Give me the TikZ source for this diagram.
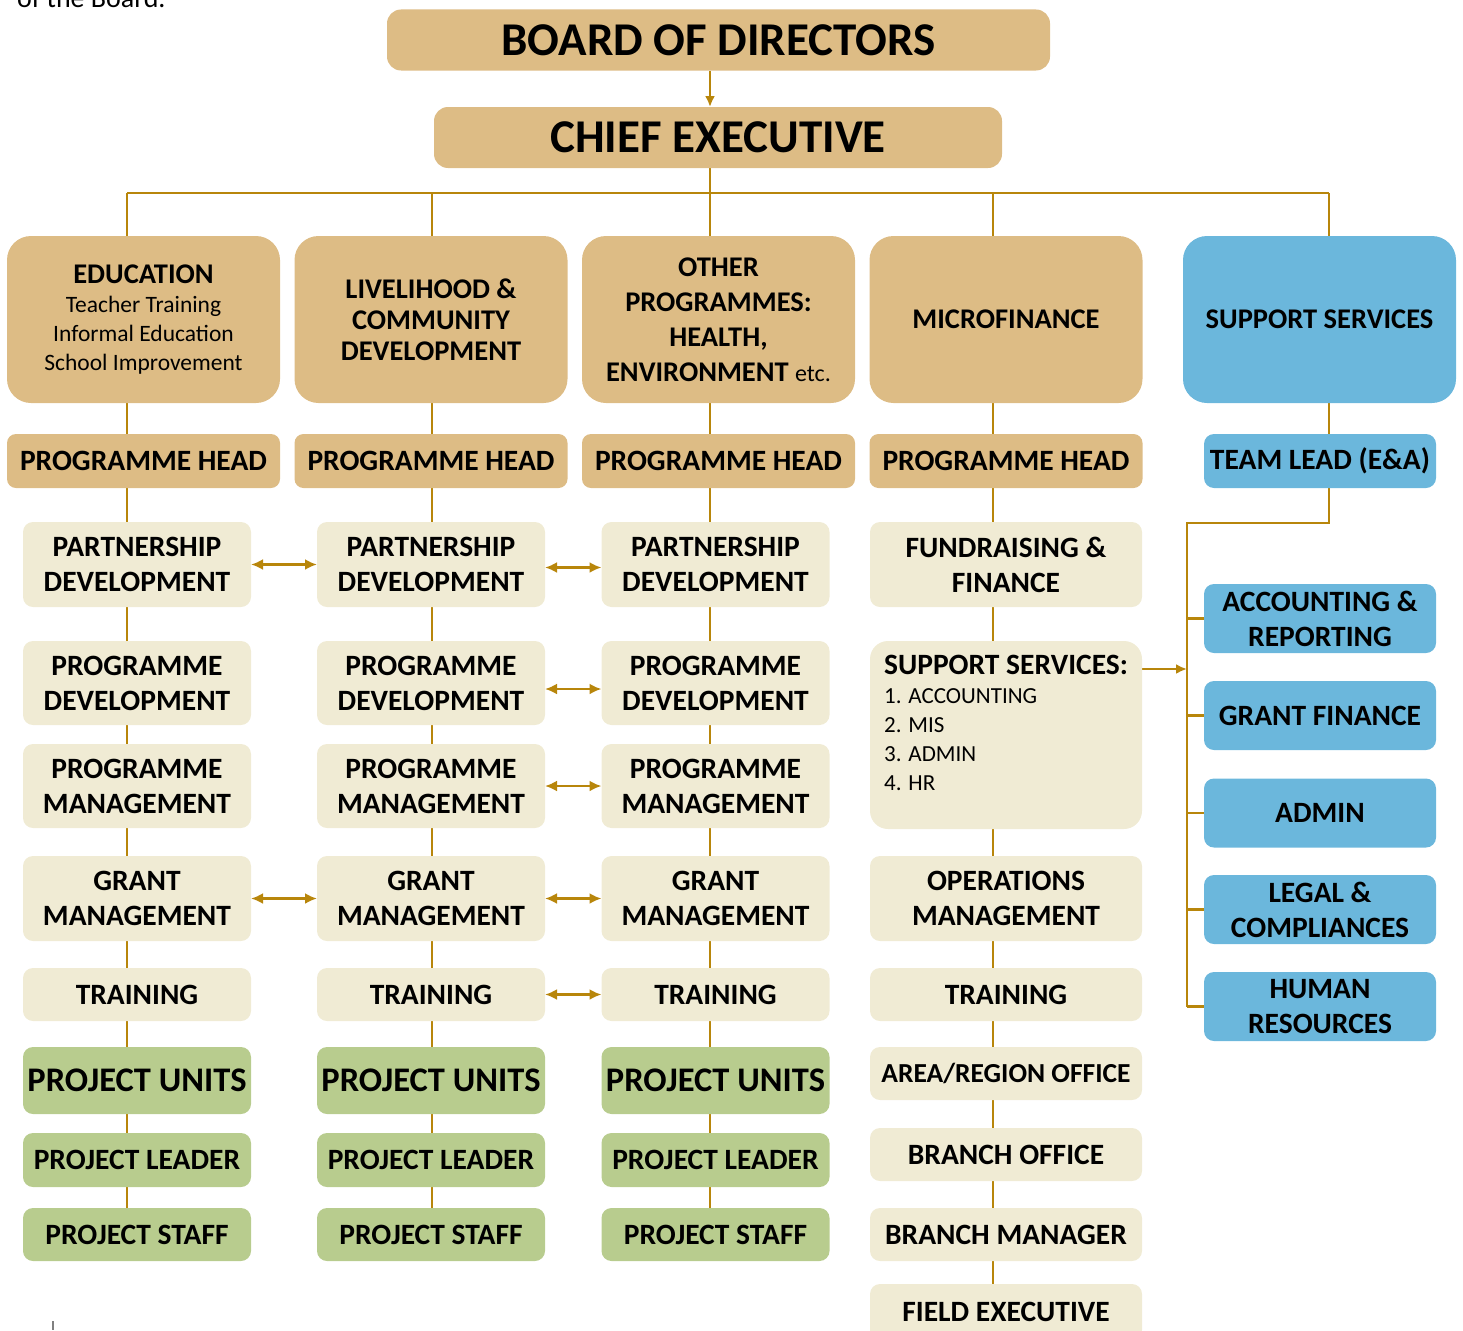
\documentclass[tikz,border=0pt]{standalone}
\usepackage{fontspec}
\setmainfont{Carlito}
\usepackage{tikz}
\usetikzlibrary{arrows.meta,backgrounds}
\definecolor{boxtan}{HTML}{DDBC85}
\definecolor{boxcream}{HTML}{F0EBD4}
\definecolor{boxleaf}{HTML}{B8CC8E}
\definecolor{boxsky}{HTML}{6BB7DC}
\definecolor{wire}{HTML}{B8860B}
\newcommand{\fsz}[2]{\fontsize{#1}{#2}\selectfont}

\begin{document}
\begin{tikzpicture}[x=1pt,y=-1pt,
	every node/.style={outer sep=0pt,inner sep=2pt,align=center},
	topbox/.style={fill=boxtan,rounded corners=14pt,minimum height=61pt,font=\bfseries\fsz{47}{52}},
	progbox/.style={fill=boxtan,rounded corners=24pt,minimum width=273pt,minimum height=167pt,font=\bfseries\fsz{28.5}{35}},
	headbox/.style={fill=boxtan,rounded corners=9pt,minimum width=273pt,minimum height=54pt,font=\bfseries\fsz{29.5}{35}},
	unitbox/.style={fill=boxcream,rounded corners=10pt,minimum width=228pt,font=\bfseries\fsz{29.5}{35}},
	mfbox/.style={unitbox,minimum width=272pt},
	projbox/.style={unitbox,fill=boxleaf},
	svcbox/.style={fill=boxsky,rounded corners=10pt,minimum width=232pt,minimum height=69pt,font=\bfseries\fsz{29.5}{35}},
	link/.style={draw=wire,line width=2.6pt},
	twoway/.style={link,{Latex[length=12pt,width=11pt]}-{Latex[length=12pt,width=11pt]}}]
	\useasboundingbox (0,0) rectangle (1463,1330);
	\node[anchor=base west,font=\fsz{28}{32}] (note) at (15,8) {of the Board.};
	\draw[gray,line width=1.5pt] (53,1321) -- (53,1330);

	\node[topbox,minimum width=663pt] (board) at (718.5,40) {BOARD OF DIRECTORS};
	\node[topbox,minimum width=568pt] (chief) at (718,137.5) {CHIEF EXECUTIVE};

	\coordinate (L1) at (127,193);
	\coordinate (L2) at (432,193);
	\coordinate (L3) at (710,193);
	\coordinate (L4) at (993,193);
	\coordinate (L5) at (1329,193);

	\node[progbox,font=\fsz{23.5}{29}] (prog1) at (143.5,319.5) {\textbf{\fsz{28.5}{29}EDUCATION}\\Teacher Training\\Informal Education\\School Improvement};
	\node[progbox,font=\bfseries\fsz{28.5}{31}] (prog2) at (431,319.5) {LIVELIHOOD \&\\COMMUNITY\\DEVELOPMENT};
	\node[progbox] (prog3) at (718.5,319.5) {OTHER\\PROGRAMMES:\\HEALTH,\\ENVIRONMENT {\mdseries\fsz{24}{35}etc.}};
	\node[progbox] (prog4) at (1006,319.5) {MICROFINANCE};
	\node[progbox,fill=boxsky] (sup) at (1319.5,319.5) {SUPPORT SERVICES};

	\node[headbox] (h1) at (143.5,461) {PROGRAMME HEAD};
	\node[headbox] (h2) at (431,461) {PROGRAMME HEAD};
	\node[headbox] (h3) at (718.5,461) {PROGRAMME HEAD};
	\node[headbox] (h4) at (1006,461) {PROGRAMME HEAD};
	\node[svcbox,minimum height=54pt] (tl) at (1320,461) {TEAM LEAD (E\&A)};

	\foreach \c/\x in {1/137,2/431,3/715.5} {
		\node[unitbox,minimum height=85pt] (part\c) at (\x,564.5) {PARTNERSHIP\\DEVELOPMENT};
		\node[unitbox,minimum height=84pt] (pdev\c) at (\x,683) {PROGRAMME\\DEVELOPMENT};
		\node[unitbox,minimum height=84pt] (pmgt\c) at (\x,786) {PROGRAMME\\MANAGEMENT};
		\node[unitbox,minimum height=85pt] (gmgt\c) at (\x,898.5) {GRANT\\MANAGEMENT};
		\node[unitbox,minimum height=53pt] (trn\c) at (\x,994.5) {TRAINING};
		\node[projbox,minimum height=67pt,font=\bfseries\fsz{34.5}{38}] (unit\c) at (\x,1080.5) {PROJECT UNITS};
		\node[projbox,minimum height=54pt] (lead\c) at (\x,1160) {PROJECT LEADER};
		\node[projbox,minimum height=53pt] (staff\c) at (\x,1234.5) {PROJECT STAFF};
	}

	\node[mfbox,minimum height=85pt] (fund) at (1006,564.5) {FUNDRAISING \&\\FINANCE};
	\node[mfbox,minimum height=188pt,rounded corners=18pt,align=left,text depth=24pt,font=\fsz{23}{29}] (ssvc) at (1006,735) {\textbf{\fsz{29.5}{29}SUPPORT SERVICES:}\\1. ACCOUNTING\\2. MIS\\3. ADMIN\\4. HR};
	\node[mfbox,minimum height=85pt] (ops) at (1006,898.5) {OPERATIONS\\MANAGEMENT};
	\node[mfbox,minimum height=53pt] (trn4) at (1006,994.5) {TRAINING};
	\node[mfbox,minimum height=53pt,font=\bfseries\fsz{27.5}{30}] (area) at (1006,1073.5) {AREA/REGION OFFICE};
	\node[mfbox,minimum height=53pt] (branch) at (1006,1154.5) {BRANCH OFFICE};
	\node[mfbox,minimum height=53pt] (bman) at (1006,1234.5) {BRANCH MANAGER};
	\node[mfbox,minimum height=56pt] (field) at (1006,1312) {FIELD EXECUTIVE};

	\node[svcbox] (acc) at (1320,618.5) {ACCOUNTING \&\\REPORTING};
	\node[svcbox] (gfin) at (1320,715.5) {GRANT FINANCE};
	\node[svcbox] (adm) at (1320,813) {ADMIN};
	\node[svcbox] (legal) at (1320,909.5) {LEGAL \&\\COMPLIANCES};
	\node[svcbox] (hr) at (1320,1006.5) {HUMAN\\RESOURCES};

	\coordinate (sbus) at (1187,523);
	\coordinate (sarr) at (1187,669);

	\begin{pgfonlayer}{background}
		\draw[link,-{Latex[length=11pt,width=10pt]}] (board.south -| L3) -- (chief.north -| L3);
		\draw[link] (chief.south -| L3) -- (L3);
		\draw[link] (L1) -- (L5);
		\foreach \c in {1,2,3,4}
			\draw[link] (L\c) -- (prog\c.north -| L\c);
		\draw[link] (L5) -- (sup.north -| L5);
		\draw[link] (sup.south -| L5) -- (tl.north -| L5);
		\foreach \c in {1,2,3} {
			\draw[link] (prog\c.south -| L\c) -- (h\c.north -| L\c);
			\foreach \a/\b in {h/part,part/pdev,pdev/pmgt,pmgt/gmgt,gmgt/trn,trn/unit,unit/lead,lead/staff}
				\draw[link] (\a\c.south -| L\c) -- (\b\c.north -| L\c);
		}
		\foreach \a/\b in {prog4/h4,h4/fund,fund/ssvc,ssvc/ops,ops/trn4,trn4/area,area/branch,branch/bman,bman/field}
			\draw[link] (\a.south -| L4) -- (\b.north -| L4);
		\draw[link] (tl.south -| L5) |- (sbus) -- (sbus |- hr.west);
		\foreach \s in {acc,gfin,adm,legal,hr}
			\draw[link] (sbus |- \s.west) -- (\s.west);
		\draw[link,-{Latex[length=11pt,width=10pt]}] (ssvc.east |- sarr) -- (sarr);
	\end{pgfonlayer}

	\draw[twoway] (part1.east) -- (part2.west);
	\draw[twoway] ([yshift=-3pt]part2.east) -- ([yshift=-3pt]part3.west);
	\draw[twoway] ([yshift=-6pt]pdev2.east) -- ([yshift=-6pt]pdev3.west);
	\draw[twoway] (pmgt2.east) -- (pmgt3.west);
	\draw[twoway] (gmgt1.east) -- (gmgt2.west);
	\draw[twoway] (gmgt2.east) -- (gmgt3.west);
	\draw[twoway] (trn2.east) -- (trn3.west);
\end{tikzpicture}
\end{document}
